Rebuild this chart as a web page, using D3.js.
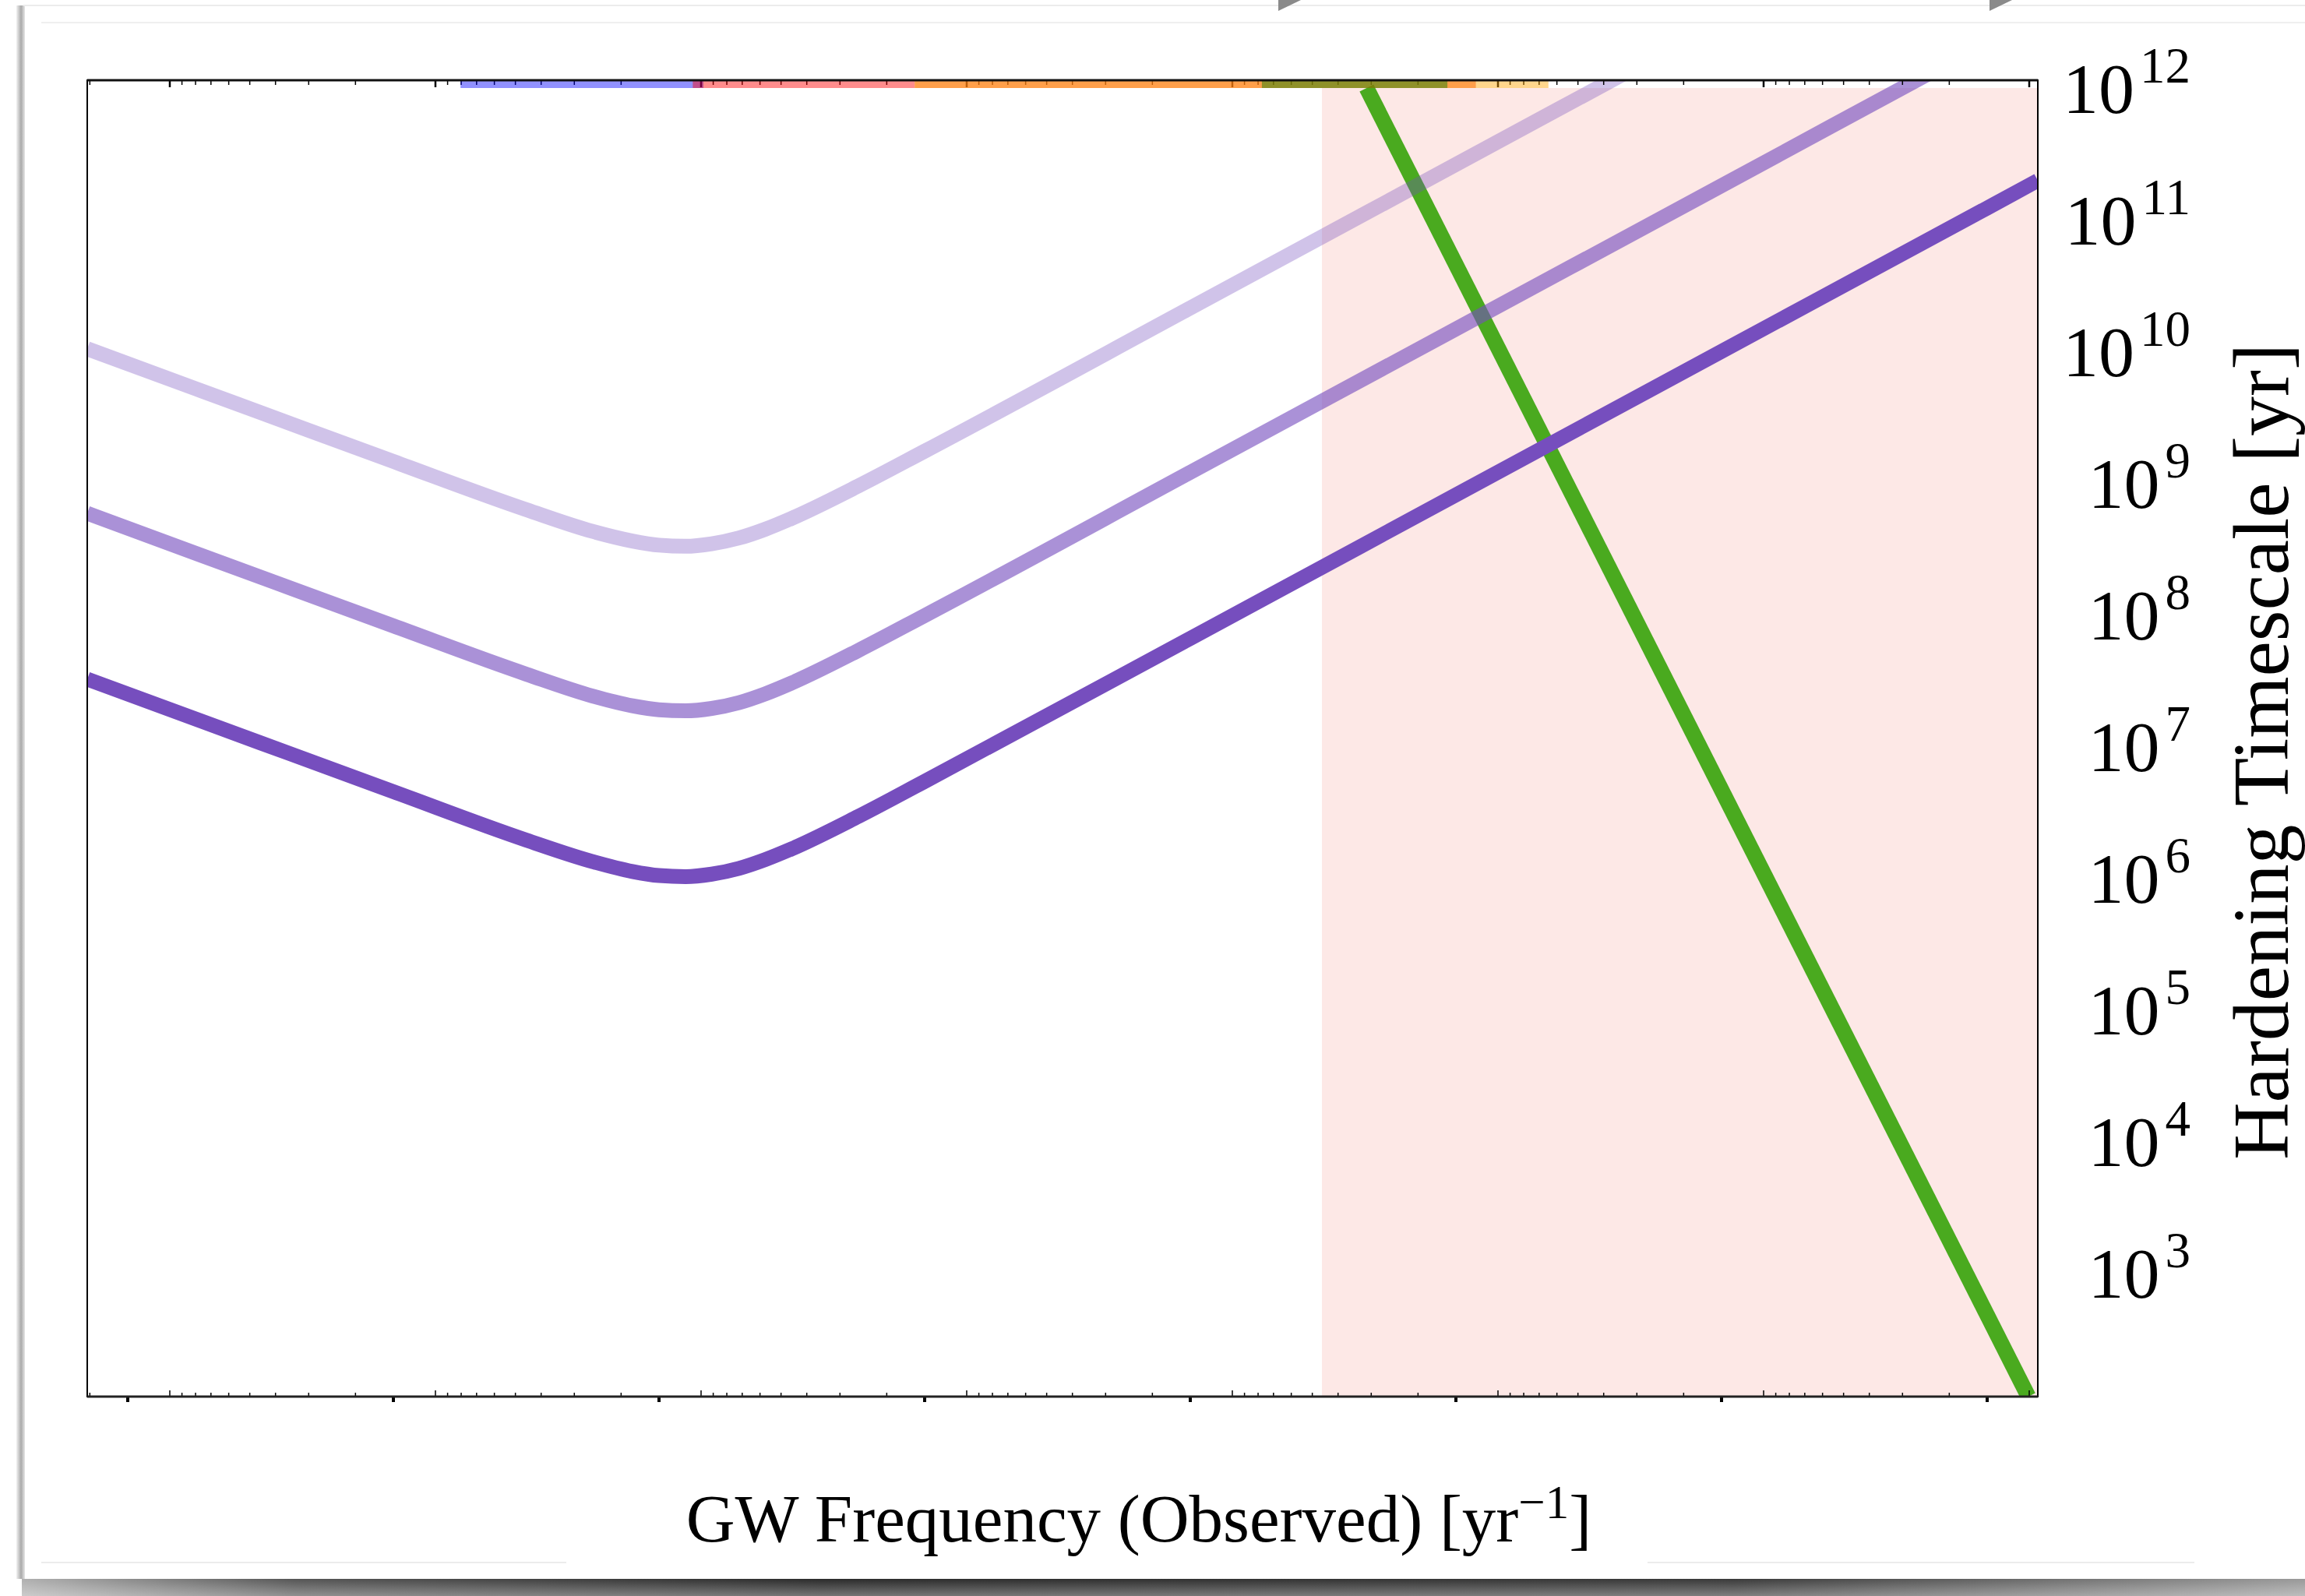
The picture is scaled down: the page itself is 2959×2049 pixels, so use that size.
<!DOCTYPE html>
<meta charset="utf-8">
<head>
  <title>Hardening timescale</title>
</head>

<style>
body {
  margin: 0;
  background: #fff;
}
svg { display: block; }
text {
  font-family: "Liberation Serif", "DejaVu Serif", serif;
  fill: #000;
}
</style>

<body>
  <div id="chart"></div>

  <script src="https://cdnjs.cloudflare.com/ajax/libs/d3/7.8.5/d3.min.js"></script>

  <script>
// GW frequency samples [yr^-1] shared by the three purple curves
var freq = [7.04e-5, 3.16e-4, 1e-3, 3.16e-3, 5.62e-3, 7.94e-3, 1e-2, 1.26e-2, 1.58e-2,
            2.00e-2, 2.51e-2, 3.16e-2, 5.62e-2, 0.1, 1, 10, 100, 1000, 1551];

// hardening timescales [yr]
var tDark  = [2.82e7, 9.25e6, 3.94e6, 1.69e6, 1.16e6, 9.75e5, 9.08e5, 8.91e5, 9.31e5,
              1.03e6, 1.20e6, 1.45e6, 2.55e6, 4.71e6, 5.75e7, 7.08e8, 8.71e9, 1.07e11, 1.73e11];
var tMid   = [5.13e8, 1.68e8, 7.16e7, 3.08e7, 2.10e7, 1.77e7, 1.65e7, 1.62e7, 1.69e7,
              1.87e7, 2.18e7, 2.64e7, 4.65e7, 8.57e7, 1.05e9, 1.29e10, 1.58e11, 1.95e12, 3.14e12];
var tLight = [9.12e9, 2.99e9, 1.27e9, 5.47e8, 3.74e8, 3.16e8, 2.94e8, 2.88e8, 3.01e8,
              3.33e8, 3.88e8, 4.70e8, 8.26e8, 1.52e9, 1.86e10, 2.29e11, 2.82e12, 3.46e13, 5.58e13];

// steep green line
var gwFreq = [4.61, 1429];
var gwTime = [8.73e11, 1e2];

// shaded frequency band (to the right edge)
var shadeFrom = 3.13;

// coloured strip along the top
var bandLo     = [1.79e-3, 1.34e-2, 9.17e-2, 1.86, 11.9];
var bandHi     = [1.47e-2, 9.17e-2, 11.9, 9.29, 22.3];
var bandColor  = ['#0000ff', '#ff0000', '#ff7f0e', '#008000', '#ffa500'];
var bandAlpha  = [0.43, 0.45, 0.75, 0.44, 0.45];

// axes
var xDomain = [7.04e-5, 1551];
var yDomain = [1e2, 1e12];
var xMajor = [1e-4, 1e-3, 1e-2, 1e-1, 1, 10, 100, 1000];
var yTicks = [1e3, 1e4, 1e5, 1e6, 1e7, 1e8, 1e9, 1e10, 1e11, 1e12];
var altFactor = 1.44;   // secondary (reversed) tick scale = altFactor / f

var W = 2959, H = 2049;
var x0 = 112, x1 = 2616, y0 = 103, y1 = 1793;

var svg = d3.select('#chart').append('svg')
  .attr('width', W)
  .attr('height', H);

var defs = svg.append('defs');

// ---- page / card decoration ----
svg.append('rect').attr('width', W).attr('height', H).attr('fill', '#fff');

var gl = defs.append('linearGradient').attr('id', 'shL');
gl.append('stop').attr('offset', 0).attr('stop-color', '#f2f2f2');
gl.append('stop').attr('offset', 0.55).attr('stop-color', '#a9a9a9');
gl.append('stop').attr('offset', 1).attr('stop-color', '#e6e6e6');

var gb = defs.append('linearGradient').attr('id', 'shB');
gb.append('stop').attr('offset', 0).attr('stop-color', '#b0b0b0');
gb.append('stop').attr('offset', 0.12).attr('stop-color', '#555');
gb.append('stop').attr('offset', 0.35).attr('stop-color', '#2b2b2b');
gb.append('stop').attr('offset', 0.75).attr('stop-color', '#3a3a3a');
gb.append('stop').attr('offset', 1).attr('stop-color', '#9a9a9a');

var gv = defs.append('linearGradient').attr('id', 'shV')
  .attr('x1', 0).attr('x2', 0).attr('y1', 0).attr('y2', 1);
gv.append('stop').attr('offset', 0).attr('stop-color', '#fff').attr('stop-opacity', 0);
gv.append('stop').attr('offset', 1).attr('stop-color', '#fff').attr('stop-opacity', 0.35);

svg.append('rect').attr('x', 21).attr('y', 7).attr('width', 11).attr('height', 2020)
  .attr('fill', 'url(#shL)');
svg.append('rect').attr('x', 28).attr('y', 2027).attr('width', W - 28).attr('height', 22)
  .attr('fill', 'url(#shB)');
svg.append('rect').attr('x', 28).attr('y', 2027).attr('width', W - 28).attr('height', 22)
  .attr('fill', 'url(#shV)');

svg.append('line').attr('x1', 30).attr('x2', W).attr('y1', 7).attr('y2', 7)
  .attr('stroke', '#ececec').attr('stroke-width', 2);
svg.append('line').attr('x1', 53).attr('x2', W).attr('y1', 29).attr('y2', 29)
  .attr('stroke', '#efefef').attr('stroke-width', 2);
svg.append('line').attr('x1', 53).attr('x2', 727).attr('y1', 2006).attr('y2', 2006)
  .attr('stroke', '#ececec').attr('stroke-width', 2);
svg.append('line').attr('x1', 2115).attr('x2', 2817).attr('y1', 2006).attr('y2', 2006)
  .attr('stroke', '#ececec').attr('stroke-width', 2);

[1641, 2554].forEach(function(tx) {
  svg.append('path')
    .attr('d', 'M' + tx + ',0 L' + (tx + 29) + ',0 L' + tx + ',14 Z')
    .attr('fill', '#8a8a8a');
});

// ---- scales ----
var x = d3.scaleLog().domain(xDomain).range([x0, x1]);
var y = d3.scaleLog().domain(yDomain).range([y1, y0]);
var alt = d3.scaleLog()
  .domain([altFactor / xDomain[0], altFactor / xDomain[1]])
  .range([x0, x1]);

defs.append('clipPath').attr('id', 'plotClip')
  .append('rect')
  .attr('x', x0).attr('y', y0)
  .attr('width', x1 - x0).attr('height', y1 - y0);

var plot = svg.append('g').attr('clip-path', 'url(#plotClip)');

// shaded band
plot.append('rect')
  .attr('x', x(shadeFrom))
  .attr('y', y0 + 10)
  .attr('width', x1 - x(shadeFrom))
  .attr('height', y1 - y0 - 10)
  .attr('fill', '#fde8e6');

var line = d3.line()
  .x(function(d) { return x(d[0]); })
  .y(function(d) { return y(d[1]); })
  .curve(d3.curveMonotoneX);

plot.append('path')
  .datum(d3.zip(gwFreq, gwTime))
  .attr('d', d3.line().x(function(d) { return x(d[0]); }).y(function(d) { return y(d[1]); }))
  .attr('fill', 'none')
  .attr('stroke', '#4aaa1f')
  .attr('stroke-width', 20);

var purple = '#764ebe';
[[tLight, 0.34], [tMid, 0.62], [tDark, 1]].forEach(function(s) {
  plot.append('path')
    .datum(d3.zip(freq, s[0]))
    .attr('d', line)
    .attr('fill', 'none')
    .attr('stroke', purple)
    .attr('stroke-opacity', s[1])
    .attr('stroke-width', 19);
});

// ---- secondary ticks (top strip and bottom, pointing inward) ----
var altTicks = alt.ticks();
function isDecade(v) {
  var l = Math.log10(v);
  return Math.abs(l - Math.round(l)) < 1e-6;
}

svg.append('g').selectAll('line.top')
  .data(altTicks)
  .join('line')
  .attr('x1', function(d) { return alt(d); })
  .attr('x2', function(d) { return alt(d); })
  .attr('y1', y0)
  .attr('y2', function(d) { return y0 + (isDecade(d) ? 9 : 6); })
  .attr('stroke', '#000')
  .attr('stroke-width', function(d) { return isDecade(d) ? 2.5 : 1.5; });

svg.append('g').selectAll('line.bot')
  .data(altTicks)
  .join('line')
  .attr('x1', function(d) { return alt(d); })
  .attr('x2', function(d) { return alt(d); })
  .attr('y1', y1)
  .attr('y2', function(d) { return y1 - (isDecade(d) ? 8 : 5); })
  .attr('stroke', '#000')
  .attr('stroke-width', 1.5);

// coloured strip
svg.append('g').selectAll('rect')
  .data(d3.range(bandLo.length))
  .join('rect')
  .attr('x', function(i) { return x(bandLo[i]); })
  .attr('y', y0 + 1)
  .attr('width', function(i) { return x(bandHi[i]) - x(bandLo[i]); })
  .attr('height', 9)
  .attr('fill', function(i) { return bandColor[i]; })
  .attr('fill-opacity', function(i) { return bandAlpha[i]; });

// major frequency ticks, outside below the frame
svg.append('g').selectAll('line')
  .data(xMajor)
  .join('line')
  .attr('x1', function(d) { return x(d); })
  .attr('x2', function(d) { return x(d); })
  .attr('y1', y1)
  .attr('y2', y1 + 7)
  .attr('stroke', '#000')
  .attr('stroke-width', 4);

// frame
svg.append('rect')
  .attr('x', x0).attr('y', y0)
  .attr('width', x1 - x0).attr('height', y1 - y0)
  .attr('fill', 'none')
  .attr('stroke', '#000')
  .attr('stroke-width', 2);
svg.append('line').attr('x1', x0).attr('x2', x1).attr('y1', y0).attr('y2', y0)
  .attr('stroke', '#111').attr('stroke-width', 3);
svg.append('line').attr('x1', x0).attr('x2', x1).attr('y1', y1).attr('y2', y1)
  .attr('stroke', '#222').attr('stroke-width', 3);

// y tick labels on the right
var yl = svg.append('g').selectAll('text')
  .data(yTicks)
  .join('text')
  .attr('x', 2812)
  .attr('y', function(d) { return y(d) + 42; })
  .attr('text-anchor', 'end')
  .style('font-size', '92px');
yl.append('tspan').text('10');
yl.append('tspan')
  .attr('dy', -39)
  .attr('dx', 7)
  .style('font-size', '65px')
  .text(function(d) { return Math.round(Math.log10(d)); });

// axis titles
var xt = svg.append('text')
  .attr('x', 1462)
  .attr('y', 1979)
  .attr('text-anchor', 'middle')
  .style('font-size', '87px');
xt.append('tspan').text('GW Frequency (Observed) [yr');
xt.append('tspan').attr('dy', -30).style('font-size', '61px').text('\u22121');
xt.append('tspan').attr('dy', 30).text(']');

svg.append('text')
  .attr('transform', 'translate(2937,965) rotate(-90)')
  .attr('text-anchor', 'middle')
  .style('font-size', '102px')
  .text('Hardening Timescale [yr]');
  </script>
</body>
</html>
